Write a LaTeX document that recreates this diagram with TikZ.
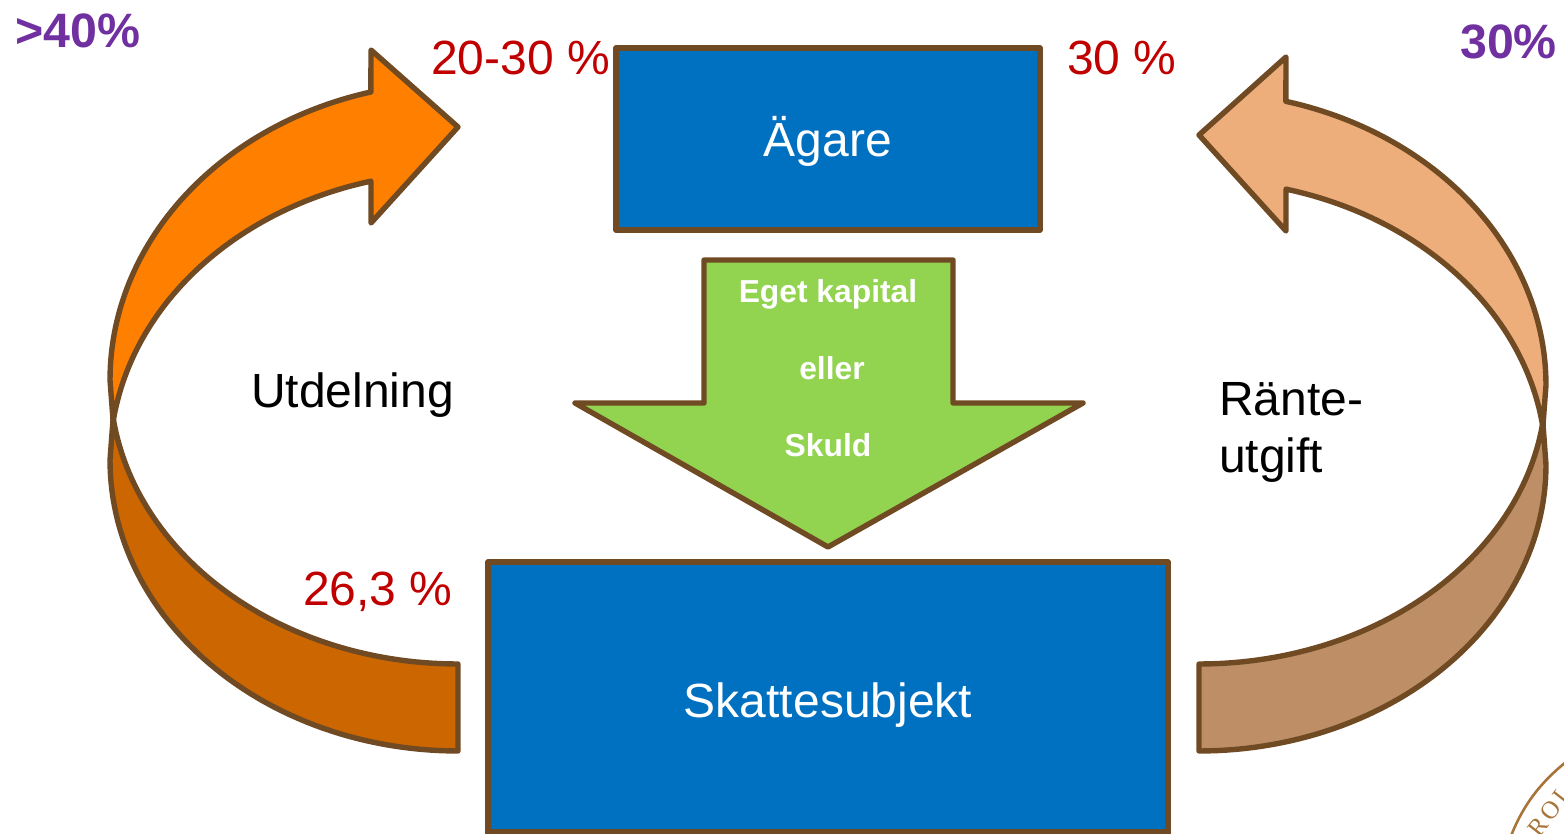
\documentclass[tikz,border=0pt]{standalone}
\usepackage{fontspec}
\setmainfont{Liberation Sans}
\newfontfamily\sealfont[LetterSpace=12]{Liberation Serif}
\definecolor{edgebrown}{HTML}{704A23}
\definecolor{boxblue}{HTML}{0070C0}
\definecolor{arrowgreen}{HTML}{92D350}
\definecolor{orangelight}{HTML}{FF8000}
\definecolor{orangedark}{HTML}{CC6600}
\definecolor{tanlight}{HTML}{EDAE7B}
\definecolor{tandark}{HTML}{BE8F66}
\definecolor{redtext}{HTML}{C00000}
\definecolor{purpletext}{HTML}{7030A0}
\definecolor{sealbrown}{HTML}{A8743A}
\tikzset{
  shapeline/.style={draw=edgebrown,line width=5.4pt,line join=round},
  bluebox/.style={shapeline,fill=boxblue,text=white,font=\fontsize{48}{56}\selectfont,inner sep=0pt,anchor=center},
  rate/.style={text=redtext,font=\fontsize{48}{56}\selectfont,inner sep=0pt},
  margin/.style={text=purpletext,font=\bfseries\fontsize{48.3}{56}\selectfont,inner sep=0pt},
  blacklabel/.style={text=black,font=\fontsize{48}{56}\selectfont,inner sep=0pt},
  greenlabel/.style={text=white,font=\bfseries\fontsize{31.8}{38}\selectfont,inner sep=0pt},
}
\begin{document}
\begin{tikzpicture}[x=1pt,y=-1pt]
\useasboundingbox (0,0) rectangle (1564,834);
% left arrow, lower band
\filldraw[shapeline,fill=orangedark]
  (458,751) -- (458,664)
  -- plot[domain=90:7.7,samples=60,variable=\t] ({458-348*cos(\t)},{380+284*sin(\t)})
  -- (110,460)
  -- plot[domain=0:90,samples=60,variable=\t] ({458-348*cos(\t)},{460+291*sin(\t)})
  -- cycle;
% left arrow, upper band
\filldraw[shapeline,fill=orangelight]
  (110,380)
  -- plot[domain=0:75.5,samples=60,variable=\t] ({458-348*cos(\t)},{380-297.5*sin(\t)})
  -- (371,50) -- (458,127) -- (371,223) -- (371,181)
  -- plot[domain=75.5:7.7,samples=60,variable=\t] ({458-348*cos(\t)},{460-288*sin(\t)})
  -- (110,380) -- cycle;
% right arrow, lower band
\filldraw[shapeline,fill=tandark]
  (1199,751) -- (1199,664)
  -- plot[domain=90:7.7,samples=60,variable=\t] ({1199+347*cos(\t)},{385+279*sin(\t)})
  -- (1546,465)
  -- plot[domain=0:90,samples=60,variable=\t] ({1199+347*cos(\t)},{465+286*sin(\t)})
  -- cycle;
% right arrow, upper band
\filldraw[shapeline,fill=tanlight]
  (1546,385)
  -- plot[domain=0:75.5,samples=60,variable=\t] ({1199+347*cos(\t)},{385-293*sin(\t)})
  -- (1286,57) -- (1199,135) -- (1286,231) -- (1286,189)
  -- plot[domain=75.5:7.7,samples=60,variable=\t] ({1199+347*cos(\t)},{465-285*sin(\t)})
  -- (1546,385) -- cycle;
% green arrow
\filldraw[shapeline,fill=arrowgreen]
  (704,260) -- (953,260) -- (953,403) -- (1083,403) -- (828,547) -- (575,403) -- (704,403) -- cycle;
% boxes
\filldraw[shapeline,fill=boxblue] (616,48) rectangle (1040,230);
\node[text=white,font=\fontsize{48}{56}\selectfont,inner sep=0pt,anchor=base] (owner) at (828,157) {Ägare};
\filldraw[shapeline,fill=boxblue] (488,850) -- (488,562) -- (1168,562) -- (1168,850);
\draw[shapeline] (488,832) -- (1168,832);
\node[text=white,font=\fontsize{48}{56}\selectfont,inner sep=0pt,anchor=base] (subject) at (828,717) {Skattesubjekt};
% labels
\node[greenlabel,anchor=base] (g1) at (828,303) {Eget kapital};
\node[greenlabel,anchor=base] (g2) at (832,380) {eller};
\node[greenlabel,anchor=base] (g3) at (828,456) {Skuld};
\node[rate,anchor=base west] (r1) at (431,75) {20-30 \%};
\node[rate,anchor=base west] (r2) at (1067,75) {30 \%};
\node[rate,anchor=base west] (r3) at (303,605) {26,3 \%};
\node[margin,anchor=base west] (m1) at (15,48) {>40\%};
\node[margin,anchor=base west] (m2) at (1460,59) {30\%};
\node[blacklabel,anchor=base west] (l1) at (251,407) {Utdelning};
\node[blacklabel,anchor=base west] (l2) at (1219,415) {Ränte-};
\node[blacklabel,anchor=base west] (l3) at (1219,472) {utgift};
% seal fragment
\draw[sealbrown,line width=2.6pt] (1511,836) .. controls (1523,805) and (1541,782) .. (1566,762);
\node[text=sealbrown,font=\sealfont\fontsize{25}{30}\selectfont,rotate=52,inner sep=0pt] (seal) at (1550,811) {ROL};
\end{tikzpicture}
\end{document}
